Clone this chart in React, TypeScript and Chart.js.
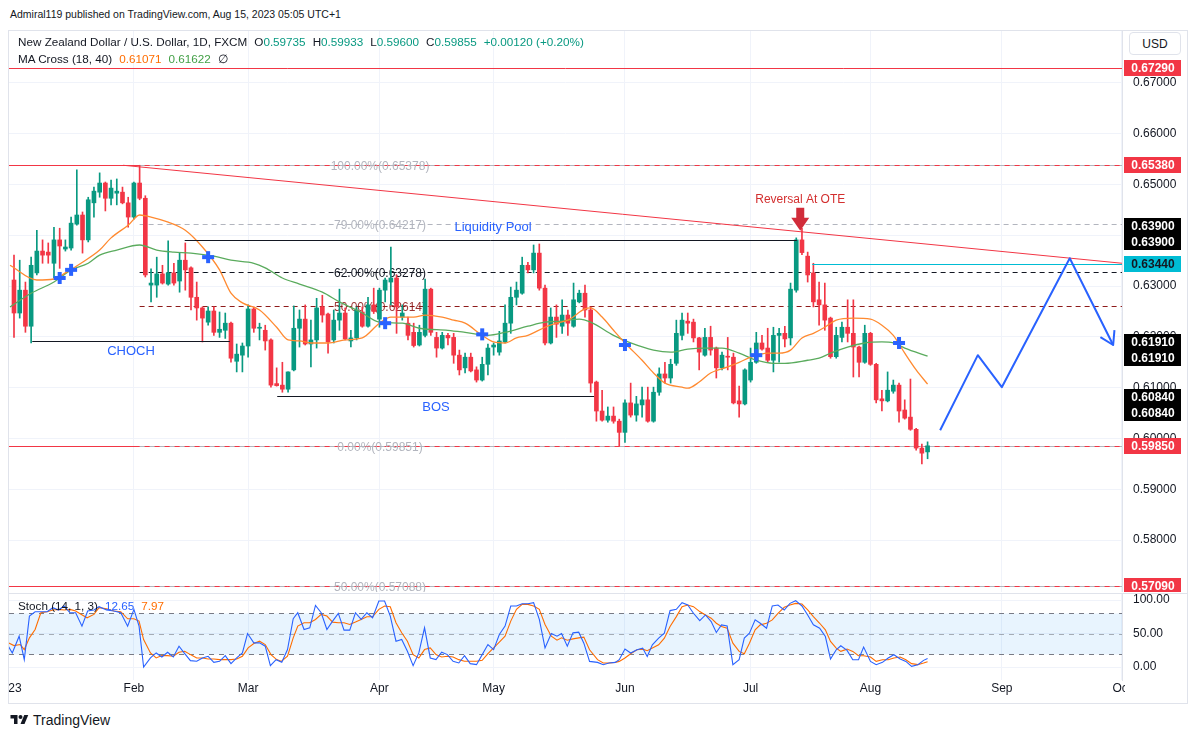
import React, { useEffect, useRef } from 'react';
import { Chart, registerables } from 'chart.js';

Chart.register(...registerables);

const FONT = '"Liberation Sans", Arial, sans-serif';
const UP = '#089981';
const DOWN = '#f23645';

// NZDUSD daily, Jan 3 .. Aug 15 2023: [open, high, low, close]
const candles: number[][] = [
  [0.6312, 0.6361, 0.6199, 0.6247], [0.6247, 0.6351, 0.6237, 0.6292], [0.6292, 0.6308, 0.6209, 0.6221],
  [0.6221, 0.6357, 0.6188, 0.6341], [0.6326, 0.641, 0.6322, 0.6369], [0.6369, 0.6391, 0.6345, 0.6361],
  [0.6367, 0.6385, 0.6345, 0.6361], [0.6345, 0.6416, 0.6316, 0.6391], [0.6391, 0.6414, 0.6335, 0.6379],
  [0.6373, 0.6391, 0.6369, 0.6377], [0.6375, 0.6436, 0.6371, 0.6424], [0.6422, 0.6529, 0.642, 0.644],
  [0.644, 0.6446, 0.6365, 0.6391], [0.6391, 0.6475, 0.6387, 0.647], [0.6464, 0.6495, 0.6436, 0.6487],
  [0.6485, 0.6523, 0.6475, 0.6503], [0.6503, 0.6505, 0.6448, 0.6473], [0.6473, 0.6509, 0.646, 0.6493],
  [0.6483, 0.6511, 0.646, 0.6487], [0.6485, 0.6495, 0.6462, 0.6464], [0.6464, 0.6475, 0.6416, 0.6436],
  [0.6436, 0.6505, 0.6432, 0.6503], [0.6503, 0.6538, 0.647, 0.6473], [0.6473, 0.6478, 0.6318, 0.6322],
  [0.6302, 0.6334, 0.6269, 0.6306], [0.6302, 0.6357, 0.6278, 0.6324], [0.6324, 0.6341, 0.6304, 0.6306],
  [0.6304, 0.6389, 0.6302, 0.6326], [0.6326, 0.6345, 0.6302, 0.6306], [0.631, 0.6365, 0.6288, 0.6351],
  [0.6351, 0.6385, 0.6292, 0.6332], [0.6336, 0.6338, 0.6253, 0.6278], [0.6278, 0.6308, 0.6233, 0.6257],
  [0.6257, 0.6259, 0.619, 0.6237], [0.6229, 0.6259, 0.6223, 0.6251], [0.6251, 0.6259, 0.6203, 0.6209],
  [0.6209, 0.6249, 0.6199, 0.6215], [0.6213, 0.6247, 0.6197, 0.6227], [0.6227, 0.6229, 0.615, 0.6158],
  [0.6152, 0.6186, 0.6131, 0.6166], [0.6164, 0.6188, 0.6131, 0.6182], [0.6182, 0.6263, 0.616, 0.6255],
  [0.6255, 0.6259, 0.6209, 0.6217], [0.6217, 0.6227, 0.6194, 0.6219], [0.6213, 0.6223, 0.6174, 0.6192],
  [0.6194, 0.6196, 0.6101, 0.6105], [0.6108, 0.6139, 0.6103, 0.6104], [0.6105, 0.615, 0.6091, 0.6097],
  [0.6097, 0.6131, 0.6091, 0.6131], [0.6135, 0.6261, 0.6133, 0.6217], [0.6217, 0.6253, 0.618, 0.6235],
  [0.6235, 0.6263, 0.6184, 0.6186], [0.6186, 0.6233, 0.6141, 0.6194], [0.6194, 0.6276, 0.6178, 0.6257],
  [0.6259, 0.6282, 0.6229, 0.6243], [0.6245, 0.6247, 0.6168, 0.619], [0.6194, 0.6253, 0.6188, 0.6233],
  [0.6233, 0.6294, 0.6213, 0.6247], [0.6247, 0.6257, 0.6194, 0.6196], [0.6192, 0.6213, 0.618, 0.6198],
  [0.6198, 0.6259, 0.6194, 0.6253], [0.6249, 0.6259, 0.6219, 0.6221], [0.6221, 0.6278, 0.6219, 0.6263],
  [0.6263, 0.6296, 0.6246, 0.625], [0.6235, 0.6296, 0.6219, 0.6292], [0.6292, 0.6316, 0.6269, 0.6312],
  [0.6308, 0.6377, 0.6263, 0.6316], [0.6316, 0.6322, 0.6207, 0.6259], [0.6239, 0.6263, 0.6233, 0.6247],
  [0.6227, 0.6239, 0.6194, 0.6203], [0.6209, 0.6227, 0.618, 0.6183], [0.6184, 0.6223, 0.6182, 0.6209],
  [0.6203, 0.6314, 0.62, 0.6294], [0.6294, 0.6296, 0.6203, 0.6209], [0.6199, 0.6209, 0.616, 0.6178],
  [0.6178, 0.6209, 0.6176, 0.6203], [0.6203, 0.6207, 0.6184, 0.6198], [0.6199, 0.6207, 0.6148, 0.6164],
  [0.6164, 0.6174, 0.6125, 0.6135], [0.6139, 0.6168, 0.6129, 0.616], [0.616, 0.6168, 0.6131, 0.6133],
  [0.6135, 0.6141, 0.6111, 0.6115], [0.6115, 0.616, 0.6113, 0.6146], [0.6146, 0.6186, 0.6125, 0.6178],
  [0.618, 0.6188, 0.6164, 0.6184], [0.617, 0.6211, 0.6164, 0.6192], [0.619, 0.6263, 0.6188, 0.6227],
  [0.6227, 0.6298, 0.6207, 0.6278], [0.6278, 0.6308, 0.6263, 0.6292], [0.6286, 0.6357, 0.6284, 0.6341],
  [0.6341, 0.6347, 0.6326, 0.6332], [0.6332, 0.6381, 0.6326, 0.6365], [0.6365, 0.6383, 0.6292, 0.6296],
  [0.6296, 0.6302, 0.6184, 0.6188], [0.6188, 0.6257, 0.6186, 0.6239], [0.6239, 0.6263, 0.6199, 0.6225],
  [0.6221, 0.6273, 0.6207, 0.6243], [0.6243, 0.6253, 0.6203, 0.6227], [0.6221, 0.6306, 0.6219, 0.6273],
  [0.6269, 0.6292, 0.6267, 0.6286], [0.6286, 0.6302, 0.6239, 0.6253], [0.6253, 0.6259, 0.6091, 0.6109],
  [0.6111, 0.6113, 0.6034, 0.6054], [0.6054, 0.6095, 0.6034, 0.6036], [0.6036, 0.6062, 0.6032, 0.6044],
  [0.6044, 0.6062, 0.603, 0.6034], [0.6034, 0.6038, 0.5985, 0.6012], [0.6012, 0.6076, 0.5992, 0.607],
  [0.607, 0.6109, 0.6042, 0.6046], [0.6046, 0.6083, 0.6034, 0.6068], [0.6066, 0.6101, 0.6042, 0.6076],
  [0.6076, 0.6101, 0.6032, 0.6034], [0.6034, 0.6101, 0.6032, 0.6091], [0.6091, 0.6139, 0.6085, 0.6127],
  [0.6127, 0.615, 0.6109, 0.6119], [0.6119, 0.6156, 0.6109, 0.6146], [0.6148, 0.6233, 0.6144, 0.6207],
  [0.6203, 0.6247, 0.6194, 0.6233], [0.6231, 0.6247, 0.6207, 0.6227], [0.6229, 0.6235, 0.619, 0.6198],
  [0.6198, 0.6199, 0.6135, 0.617], [0.6164, 0.6217, 0.6162, 0.6199], [0.6199, 0.6221, 0.6164, 0.6174],
  [0.6178, 0.618, 0.6119, 0.6139], [0.6139, 0.617, 0.6135, 0.6164], [0.6162, 0.6199, 0.6135, 0.616],
  [0.616, 0.6168, 0.6068, 0.607], [0.6074, 0.6103, 0.6042, 0.6068], [0.6068, 0.6137, 0.6066, 0.6135],
  [0.6115, 0.6178, 0.6111, 0.615], [0.615, 0.6209, 0.6148, 0.6188], [0.6188, 0.6203, 0.6174, 0.6176],
  [0.6178, 0.6217, 0.615, 0.6154], [0.6154, 0.6219, 0.6131, 0.6203], [0.6203, 0.6217, 0.615, 0.6207],
  [0.6207, 0.6221, 0.618, 0.6196], [0.6198, 0.6306, 0.6184, 0.6294], [0.6292, 0.6395, 0.6288, 0.6391],
  [0.6391, 0.6414, 0.6362, 0.6366], [0.6359, 0.6367, 0.6308, 0.6322], [0.6326, 0.6345, 0.6259, 0.6269],
  [0.6273, 0.6308, 0.6223, 0.6263], [0.6263, 0.6306, 0.6213, 0.6233], [0.6237, 0.6239, 0.6158, 0.6161],
  [0.6161, 0.6219, 0.6158, 0.6203], [0.6199, 0.6229, 0.619, 0.6219], [0.6219, 0.6273, 0.619, 0.6207],
  [0.6207, 0.6273, 0.6121, 0.618], [0.618, 0.6182, 0.6121, 0.615], [0.615, 0.6223, 0.6148, 0.6207],
  [0.6207, 0.6209, 0.6144, 0.6146], [0.6146, 0.6148, 0.607, 0.6076], [0.6078, 0.6095, 0.6054, 0.6074],
  [0.6074, 0.6131, 0.6072, 0.6095], [0.6093, 0.6115, 0.6089, 0.6105], [0.6105, 0.6109, 0.6032, 0.6054],
  [0.6056, 0.6076, 0.6038, 0.604], [0.6042, 0.6117, 0.6016, 0.6018], [0.6018, 0.602, 0.5977, 0.5981],
  [0.5981, 0.5989, 0.595, 0.5971], [0.59735, 0.59933, 0.596, 0.59855],
];

// MA Cross (18, 40): [bar index, value]
const maFast: number[][] = [
  [-0.7, 0.6341], [4, 0.6312], [7, 0.6314], [9, 0.6326], [12, 0.6347], [15, 0.6371], [17, 0.6395], [20, 0.642],
  [22, 0.644], [24, 0.6436], [27, 0.6426], [30, 0.641], [33, 0.6377], [36, 0.6332], [38, 0.6286], [40, 0.6267],
  [43, 0.6253], [46, 0.6219], [48, 0.6194], [50, 0.6192], [52, 0.6188], [55, 0.6188], [58, 0.6194], [61, 0.6198],
  [64, 0.6227], [66, 0.6239], [70, 0.6239], [72, 0.6243], [75, 0.6239], [77, 0.6233], [79, 0.6227], [82, 0.6203],
  [84, 0.619], [86, 0.6188], [88, 0.6198], [90, 0.6203], [93, 0.6219], [95, 0.6227], [97, 0.6233], [100, 0.6255],
  [101, 0.6257], [103, 0.6239], [105, 0.6213], [107, 0.6188], [110, 0.6154], [112, 0.6129], [114, 0.6109],
  [117, 0.6101], [118, 0.6099], [120, 0.6111], [122, 0.6129], [125, 0.6141], [127, 0.615], [129, 0.616],
  [132, 0.6168], [134, 0.6168], [136, 0.6174], [138, 0.6198], [140, 0.6207], [142, 0.6219], [144, 0.6233],
  [147, 0.6237], [150, 0.6235], [152, 0.6223], [154, 0.6203], [156, 0.6168], [158, 0.6135], [160, 0.6107],
];
const maSlow: number[][] = [
  [-0.7, 0.6259], [3, 0.6286], [7, 0.6308], [10, 0.6332], [13, 0.6345], [15, 0.6361], [18, 0.6371], [22, 0.6381],
  [25, 0.6371], [28, 0.6367], [31, 0.6365], [35, 0.6359], [38, 0.6351], [42, 0.6345], [44, 0.6336], [47, 0.6316],
  [50, 0.6304], [54, 0.6288], [57, 0.6269], [61, 0.6247], [64, 0.6229], [68, 0.6227], [71, 0.6217], [76, 0.6213],
  [79, 0.6209], [83, 0.6203], [86, 0.6209], [90, 0.6221], [93, 0.6229], [96, 0.6231], [99, 0.6235], [101, 0.6229],
  [105, 0.6203], [108, 0.6188], [112, 0.6174], [115, 0.617], [118, 0.6176], [121, 0.6178], [124, 0.6178],
  [127, 0.6168], [130, 0.6154], [133, 0.6148], [135, 0.6148], [139, 0.6154], [141, 0.6158], [143, 0.6168],
  [146, 0.618], [149, 0.6188], [152, 0.619], [154, 0.6188], [156, 0.6178], [160, 0.6162],
];
const maCrosses: number[][] = [
  [8, 0.6316], [10, 0.6332], [34, 0.6357], [65, 0.6227], [82, 0.6205], [107, 0.6184], [130, 0.6164], [155, 0.6188],
];

// Stoch (14, 1, 3): [bar index, value]
const stochK: number[][] = [
  [-1, 31], [-0.3, 21], [0.9, 46], [1.8, 11], [2.7, 76], [3.7, 82.5], [4.7, 82.5], [5.8, 82.5], [6.8, 88.5],
  [7.8, 85], [8.8, 91], [9.8, 81], [10.8, 81], [11.9, 61], [12.9, 83.5], [14, 85], [14.9, 90], [16.2, 85],
  [17.5, 83.5], [18.7, 81], [19.9, 61], [21, 86], [21.9, 61], [22.7, 0], [23.9, 13.5], [24.9, 21], [25.9, 15],
  [26.9, 22], [27.9, 15], [28.9, 31], [29.9, 20], [30.9, 9.5], [32, 8.5], [33, 13.5], [34, 16], [35, 7],
  [36, 8.5], [37, 17], [38, 5], [39, 13.5], [40, 21], [40.9, 50], [42, 36], [43, 36], [44, 31], [44.9, 2],
  [45.9, 11], [46.9, 7], [47.9, 26], [48.9, 72], [49.7, 81], [50.8, 56], [51.8, 58.5], [52.8, 92], [53.8, 81],
  [54.8, 56], [55.8, 68.5], [56.8, 80], [57.8, 55], [58.8, 55], [59.8, 81], [60.8, 71], [61.8, 81], [62.8, 73.5],
  [63.9, 98.5], [64.9, 98.5], [65.9, 76], [66.9, 38.5], [67.9, 41], [68.9, 23.5], [69.9, 2], [70.9, 21],
  [71.9, 58.5], [72.9, 13.5], [73.9, 11], [74.9, 22], [75.9, 18.5], [76.9, 8.5], [77.9, 6], [78.9, 17], [79.9, 5],
  [81, 3.5], [82, 18.5], [83, 33.5], [84, 26], [85, 48.5], [86, 61], [87, 91], [88, 91], [89, 94.5], [90, 94.5],
  [91, 96], [92, 71], [93, 28.5], [94.1, 50], [95.1, 46], [95.9, 50], [96.9, 31], [97.9, 51], [98.9, 52],
  [99.8, 35.6], [100.8, 8.4], [102.2, 6.9], [103.2, 3.5], [104.2, 5.9], [105.3, 6.9], [106, 10.9], [107, 26.7],
  [108, 20.8], [109.1, 25.7], [110.1, 28.2], [110.9, 15.8], [111.8, 33.2], [112.9, 43.1], [113.9, 50.5],
  [114.9, 84.2], [116, 86.1], [117, 96], [118, 92.6], [119, 80.2], [120.1, 69.3], [121.1, 77.7], [122.1, 67.8],
  [123, 51.5], [123.9, 62.9], [124.9, 61.4], [125.9, 3.5], [127, 10.9], [127.9, 43.1], [128.8, 50.5],
  [129.8, 70.3], [130.7, 65.3], [131.8, 57.9], [132.8, 91.1], [133.8, 92.6], [134.9, 85.1], [135.9, 95],
  [136.9, 99], [138, 91.1], [139, 77.7], [140, 62.9], [141.1, 57.9], [142.1, 45.5], [143, 11.9], [144, 25.7],
  [144.8, 31.7], [145.9, 24.8], [146.9, 10.9], [147.9, 10.9], [148.8, 29.7], [150, 8.4], [151, 3.5],
  [152.1, 6.9], [153.1, 13.4], [154.1, 18.3], [155.2, 11.9], [156.2, 8.4], [157.2, 1], [158.3, 3.5],
  [159.3, 9.9], [160, 12.65],
];
const stochD: number[][] = [
  [-1, 36], [0, 32], [1.1, 33.5], [1.8, 26], [2.7, 43.5], [3.7, 56], [4.7, 81], [5.8, 82.5], [6.8, 85], [7.8, 86],
  [8.8, 85], [9.8, 86], [10.8, 83.5], [11.8, 78.5], [12.8, 73.5], [14, 78.5], [14.9, 88.5], [16.2, 87],
  [17.5, 83.5], [18.7, 82.5], [19.9, 72], [21, 72], [21.9, 68.5], [22.7, 41], [23.9, 21], [24.9, 13.5],
  [25.9, 17], [26.9, 17], [27.9, 16], [28.9, 22], [29.9, 23.5], [30.9, 18.5], [32, 13.5], [33, 13.5], [34, 12],
  [35, 12], [36, 11], [37, 11], [38, 11], [39, 12], [40, 16], [41, 28.5], [42, 35], [43, 38.5], [44, 33.5],
  [45, 18.5], [46, 11], [46.8, 8.5], [47.9, 16], [48.9, 43.5], [49.7, 61], [50.8, 66], [51.8, 66], [52.8, 71],
  [53.8, 78.5], [54.8, 76], [55.8, 67], [56.8, 66], [57.8, 66], [58.8, 63.5], [59.8, 67], [60.8, 71], [61.8, 75],
  [62.8, 75], [63.9, 86], [64.9, 91], [65.9, 90], [66.9, 66], [67.9, 51], [68.9, 38.5], [69.9, 18.5],
  [70.9, 13.5], [71.9, 26], [72.9, 28.5], [73.9, 18.5], [74.9, 15], [75.9, 16], [76.9, 15], [77.9, 11],
  [78.9, 8.5], [79.9, 8.5], [81, 8.5], [82, 10], [83, 20], [84, 28.5], [85, 37], [86, 46], [87, 68.5], [88, 86],
  [89, 93.5], [90, 93.5], [91, 91], [92, 86], [93, 63.5], [94.1, 46], [95.1, 40], [95.9, 43.5], [96.9, 40],
  [97.9, 42], [98.9, 43.5], [99.8, 44.6], [100.8, 25.7], [102.2, 10.9], [103.2, 5.9], [104.2, 5.9], [105.3, 6.9],
  [106, 8.4], [107, 13.4], [108, 19.8], [109.1, 25.7], [110.1, 26.7], [110.9, 24.3], [111.8, 28.2],
  [112.9, 33.2], [113.9, 43.1], [114.9, 60.4], [116, 75.2], [117, 90.1], [118, 92.6], [119, 90.1], [120.1, 82.7],
  [121.1, 77.7], [122.1, 72.8], [123, 65.3], [123.9, 60.4], [124.9, 57.9], [125.9, 35.6], [127, 23.3],
  [127.9, 19.8], [128.8, 35.6], [129.8, 55.4], [130.7, 62.9], [131.8, 65.3], [132.8, 70.3], [133.8, 80.2],
  [134.9, 89.1], [135.9, 92.6], [136.9, 95], [138, 94], [139, 85.1], [140, 75.2], [141.1, 65.3], [142.1, 55.4],
  [143, 38.1], [144, 28.2], [144.8, 23.3], [145.9, 26.7], [146.9, 23.3], [147.9, 16.8], [148.8, 16.8],
  [150, 14.9], [151, 8.4], [152.1, 10.9], [153.1, 10.9], [154.1, 13.4], [155.2, 14.9], [156.2, 10.9],
  [157.2, 5], [158.3, 3.5], [159.3, 5.9], [160, 7.97],
];

const monthTickIdx = [-1, 21, 41, 64, 84, 107, 129, 150, 173, 194];
const monthTickLabels = ['2023', 'Feb', 'Mar', 'Apr', 'May', 'Jun', 'Jul', 'Aug', 'Sep', 'Oct'];
const priceTicks = [0.58, 0.59, 0.6, 0.61, 0.62, 0.63, 0.64, 0.65, 0.66, 0.67];
const stochTicks = [0, 50, 100];
const stochBands = [80, 50, 20];

const fibLevels = [1, 0.79, 0.62, 0.5, 0, 0.5];
const fibPrices = [0.65378, 0.64217, 0.63278, 0.62614, 0.59851, 0.57088];
const fibColors = ['#b2b5be', '#b2b5be', '#131722', 'rgba(136,14,14,0.85)', '#b2b5be', '#b2b5be'];

const axisMarkValues = [0.6729, 0.6538, 0.639, 0.639, 0.6344, 0.6191, 0.6191, 0.6084, 0.6084, 0.5985, 0.5709];
const axisMarkKinds = ['red', 'red', 'black', 'black', 'cyan', 'black', 'black', 'black', 'black', 'red', 'red'];

// projected path (bar index, price)
const projection: number[][] = [[162.2, 0.6016], [168.8, 0.6164], [173, 0.6101], [184.9, 0.6355], [192.5, 0.6184]];

// layout of the TradingView panes
const X_MIN = -0.876;
const X_MAX = 194.05;
const FIB_START = 22;
const markOffsets = [0, 0, -14, 2, 0, 1, 17, 1, 17, 0, 0];
const markBg: Record<string, string> = { red: '#f23645', black: '#000000', cyan: '#00bcd4' };
const markFg: Record<string, string> = { red: '#ffffff', black: '#ffffff', cyan: '#131722' };

const xScale = () => ({
  type: 'linear',
  min: X_MIN,
  max: X_MAX,
  offset: false,
  afterBuildTicks: (s: any) => {
    s.ticks = monthTickIdx.map((v) => ({ value: v }));
  },
  afterFit: (s: any) => {
    s.height = 0;
  },
  ticks: { display: false },
  grid: { color: '#f0f3fa', drawTicks: false, offset: false },
  border: { display: false },
});

const clipArea = (ctx: any, a: any) => {
  ctx.beginPath();
  ctx.rect(a.left, a.top, a.right - a.left, a.bottom - a.top);
  ctx.clip();
};

const mainOverlay = {
  id: 'mainOverlay',
  beforeDatasetsDraw(chart: any) {
    // fib retracement sits under the candles
    const { ctx, chartArea: a, scales } = chart;
    const X = (v: number) => scales.x.getPixelForValue(v);
    const Y = (v: number) => Math.round(scales.y.getPixelForValue(v)) + 0.5;
    ctx.save();
    clipArea(ctx, a);
    const hline = (p: number, from: number, color: string, dash: number[] = []) => {
      ctx.beginPath();
      ctx.setLineDash(dash);
      ctx.strokeStyle = color;
      ctx.lineWidth = 1;
      ctx.moveTo(X(from), Y(p));
      ctx.lineTo(X(X_MAX), Y(p));
      ctx.stroke();
      ctx.setLineDash([]);
    };
    hline(0.6729, X_MIN, DOWN);
    hline(fibPrices[0], X_MIN, DOWN);
    hline(fibPrices[0], FIB_START, '#b2b5be', [5, 5]);
    hline(fibPrices[1], FIB_START, '#b2b5be', [5, 4]);
    hline(fibPrices[2], FIB_START, '#131722', [5, 4]);
    hline(fibPrices[3], FIB_START, '#8e1b1b', [5, 4]);
    hline(fibPrices[4], X_MIN, DOWN);
    hline(fibPrices[4], FIB_START, '#b2b5be', [5, 5]);
    hline(fibPrices[5], X_MIN, DOWN);
    hline(fibPrices[5], FIB_START, '#b2b5be', [5, 5]);

    ctx.font = `12px ${FONT}`;
    ctx.textAlign = 'center';
    ctx.textBaseline = 'middle';
    fibLevels.forEach((lvl, i) => {
      ctx.fillStyle = fibColors[i];
      ctx.fillText(`${(lvl * 100).toFixed(2)}%(${fibPrices[i].toFixed(5)})`, X(64.1), Y(fibPrices[i]) + 1);
    });
    ctx.restore();
  },
  afterDatasetsDraw(chart: any) {
    const { ctx, chartArea: a, scales } = chart;
    const X = (v: number) => scales.x.getPixelForValue(v);
    const Yr = (v: number) => scales.y.getPixelForValue(v);
    const Y = (v: number) => Math.round(Yr(v)) + 0.5;
    ctx.save();
    clipArea(ctx, a);

    const seg = (p: number, from: number, to: number, color: string) => {
      ctx.beginPath();
      ctx.strokeStyle = color;
      ctx.lineWidth = 1;
      ctx.moveTo(X(from), Y(p));
      ctx.lineTo(X(to), Y(p));
      ctx.stroke();
    };
    // structure lines
    seg(0.639, 29.9, 137.1, '#131722');
    seg(0.6191, 3.2, 37.8, '#131722');
    seg(0.6084, 46.1, 101.6, '#131722');
    seg(0.6344, 139.8, X_MAX, '#00bcd4');

    // descending trend line
    ctx.beginPath();
    ctx.strokeStyle = DOWN;
    ctx.lineWidth = 1;
    ctx.moveTo(X(19.1), Yr(0.6538));
    ctx.lineTo(X(X_MAX), Yr(0.6345));
    ctx.stroke();

    // text notes
    ctx.textAlign = 'center';
    ctx.textBaseline = 'middle';
    ctx.font = `13px ${FONT}`;
    ctx.fillStyle = '#2962ff';
    ctx.fillText('Liquidity Pool', X(83.9), Yr(0.6415));
    ctx.fillText('CHOCH', X(20.5), Yr(0.6172));
    ctx.fillText('BOS', X(73.9), Yr(0.6062));
    ctx.font = `12px ${FONT}`;
    ctx.fillStyle = '#d32f2f';
    ctx.fillText('Reversal At OTE', X(137.7), Yr(0.647));

    // reversal arrow
    const ax = X(137.7);
    const tip = Yr(0.6409);
    ctx.fillStyle = '#d12c3a';
    ctx.fillRect(ax - 4, tip - 23, 8, 11);
    ctx.beginPath();
    ctx.moveTo(ax - 9, tip - 13);
    ctx.lineTo(ax + 9, tip - 13);
    ctx.lineTo(ax, tip);
    ctx.closePath();
    ctx.fill();

    // MA cross markers
    ctx.fillStyle = '#2962ff';
    maCrosses.forEach(([i, p]) => {
      const cx = X(i);
      const cy = Yr(p);
      ctx.fillRect(cx - 6, cy - 2, 12, 4);
      ctx.fillRect(cx - 2, cy - 6, 4, 12);
    });

    // projection path
    const pts = projection.map(([i, p]) => [X(i), Yr(p)]);
    ctx.strokeStyle = '#2962ff';
    ctx.lineWidth = 2;
    ctx.lineJoin = 'round';
    ctx.beginPath();
    pts.forEach(([x, y], k) => (k ? ctx.lineTo(x, y) : ctx.moveTo(x, y)));
    ctx.stroke();
    const [px, py] = pts[pts.length - 2];
    const [tx, ty] = pts[pts.length - 1];
    const ang = Math.atan2(ty - py, tx - px);
    ctx.beginPath();
    ctx.moveTo(tx - 15 * Math.cos(ang - 0.55), ty - 15 * Math.sin(ang - 0.55));
    ctx.lineTo(tx, ty);
    ctx.lineTo(tx - 15 * Math.cos(ang + 0.55), ty - 15 * Math.sin(ang + 0.55));
    ctx.stroke();
    ctx.restore();
  },
  afterDraw(chart: any) {
    const { ctx, chartArea: a, scales } = chart;
    ctx.save();
    ctx.font = `12px ${FONT}`;
    ctx.textBaseline = 'middle';
    ctx.textAlign = 'left';
    ctx.fillStyle = '#131722';
    priceTicks.forEach((v) => {
      ctx.fillText(v.toFixed(5), a.right + 11, scales.y.getPixelForValue(v));
    });
    ctx.font = `bold 12px ${FONT}`;
    ctx.textAlign = 'center';
    axisMarkValues.forEach((v, i) => {
      const y = scales.y.getPixelForValue(v) + markOffsets[i];
      ctx.fillStyle = markBg[axisMarkKinds[i]];
      ctx.fillRect(a.right + 2, Math.round(y - 8), 57, 16);
      ctx.fillStyle = markFg[axisMarkKinds[i]];
      ctx.fillText(v.toFixed(5), a.right + 31, y + 0.5);
    });
    ctx.restore();
  },
};

const stochOverlay = {
  id: 'stochOverlay',
  beforeDatasetsDraw(chart: any) {
    const { ctx, chartArea: a, scales } = chart;
    const Y = (v: number) => Math.round(scales.y.getPixelForValue(v)) + 0.5;
    ctx.save();
    ctx.fillStyle = 'rgba(33, 150, 243, 0.1)';
    ctx.fillRect(a.left, Y(80), a.right - a.left, Y(20) - Y(80));
    ctx.setLineDash([5, 5]);
    ctx.lineWidth = 1;
    stochBands.forEach((v) => {
      ctx.strokeStyle = v === 50 ? 'rgba(120,123,134,0.6)' : '#787b86';
      ctx.beginPath();
      ctx.moveTo(a.left, Y(v));
      ctx.lineTo(a.right, Y(v));
      ctx.stroke();
    });
    ctx.restore();
  },
  afterDraw(chart: any) {
    const { ctx, chartArea: a, scales } = chart;
    ctx.save();
    ctx.font = `12px ${FONT}`;
    ctx.textBaseline = 'middle';
    ctx.textAlign = 'left';
    ctx.fillStyle = '#131722';
    stochTicks.forEach((v) => {
      ctx.fillText(v.toFixed(2), a.right + 11, scales.y.getPixelForValue(v));
    });
    ctx.beginPath();
    ctx.rect(a.left, a.bottom, a.right - a.left + 3, 30);
    ctx.clip();
    ctx.textAlign = 'center';
    monthTickIdx.forEach((v, i) => {
      ctx.fillText(monthTickLabels[i], scales.x.getPixelForValue(v), a.bottom + 8.5);
    });
    ctx.restore();
  },
};

function PriceChart() {
  const canvasRef = useRef<HTMLCanvasElement | null>(null);

  useEffect(() => {
    const canvas = canvasRef.current;
    if (!canvas) return;
    const colors = candles.map((c) => (c[3] >= c[0] ? UP : DOWN));
    const chart = new Chart(canvas, {
      type: 'bar',
      data: {
        datasets: [
          {
            type: 'bar',
            data: candles.map((c, i) => ({ x: i, y: [c[2], c[1]] })),
            backgroundColor: colors,
            barThickness: 1,
            grouped: false,
            order: 3,
          },
          {
            type: 'bar',
            data: candles.map((c, i) => ({ x: i, y: [c[0], c[3]] })),
            backgroundColor: colors,
            barThickness: 4,
            minBarLength: 1,
            grouped: false,
            order: 2,
          },
          {
            type: 'line',
            data: maFast.map(([x, y]) => ({ x, y })),
            borderColor: '#ff8a30',
            borderWidth: 1.3,
            pointRadius: 0,
            cubicInterpolationMode: 'monotone',
            order: 1,
          },
          {
            type: 'line',
            data: maSlow.map(([x, y]) => ({ x, y })),
            borderColor: '#5aab5d',
            borderWidth: 1.3,
            pointRadius: 0,
            cubicInterpolationMode: 'monotone',
            order: 1,
          },
        ] as any,
      },
      options: {
        animation: false,
        responsive: true,
        maintainAspectRatio: false,
        layout: { padding: 0 },
        plugins: { legend: { display: false }, tooltip: { enabled: false } },
        scales: {
          x: xScale() as any,
          y: {
            type: 'linear',
            position: 'right',
            min: 0.56976,
            max: 0.68024,
            afterBuildTicks: (s: any) => {
              s.ticks = priceTicks.map((v) => ({ value: v }));
            },
            afterFit: (s: any) => {
              s.width = 65;
            },
            ticks: { display: false },
            grid: { color: '#f0f3fa', drawTicks: false },
            border: { color: '#e0e3eb' },
          },
        },
      },
      plugins: [mainOverlay],
    });
    return () => {
      chart.destroy();
    };
  }, []);

  return <canvas ref={canvasRef} />;
}

function StochChart() {
  const canvasRef = useRef<HTMLCanvasElement | null>(null);

  useEffect(() => {
    const canvas = canvasRef.current;
    if (!canvas) return;
    const chart = new Chart(canvas, {
      type: 'line',
      data: {
        datasets: [
          {
            data: stochK.map(([x, y]) => ({ x, y })),
            borderColor: '#2962ff',
            borderWidth: 1.1,
            pointRadius: 0,
          },
          {
            data: stochD.map(([x, y]) => ({ x, y })),
            borderColor: '#ff6d00',
            borderWidth: 1.1,
            pointRadius: 0,
          },
        ],
      },
      options: {
        animation: false,
        responsive: true,
        maintainAspectRatio: false,
        layout: { padding: { bottom: 23 } },
        plugins: { legend: { display: false }, tooltip: { enabled: false } },
        scales: {
          x: xScale() as any,
          y: {
            type: 'linear',
            position: 'right',
            min: -19.4,
            max: 108.96,
            afterBuildTicks: (s: any) => {
              s.ticks = stochTicks.map((v) => ({ value: v }));
            },
            afterFit: (s: any) => {
              s.width = 65;
            },
            ticks: { display: false },
            grid: { color: '#f0f3fa', drawTicks: false },
            border: { color: '#e0e3eb' },
          },
        },
      },
      plugins: [stochOverlay],
    });
    return () => {
      chart.destroy();
    };
  }, []);

  return <canvas ref={canvasRef} />;
}

const abs = (left: number, top: number, width: number, height: number): React.CSSProperties => ({
  position: 'absolute',
  left,
  top,
  width,
  height,
});

export default function App() {
  const dark = '#131722';
  const green = UP;
  return (
    <div style={{ position: 'fixed', left: 0, top: 0, width: 1195, height: 738, background: '#fff', fontFamily: FONT, color: dark, overflow: 'hidden' }}>
      <div style={{ position: 'absolute', left: 10, top: 8, fontSize: 10.5, whiteSpace: 'nowrap' }}>
        Admiral119 published on TradingView.com, Aug 15, 2023 05:05 UTC+1
      </div>
      <div style={{ ...abs(8, 30, 1180, 674), border: '1px solid #e0e3eb', boxSizing: 'border-box' }} />
      <div style={abs(9, 31, 1178, 561)}>
        <PriceChart />
      </div>
      <div style={{ ...abs(8, 593, 1180, 1), background: '#e0e3eb' }} />
      <div style={abs(9, 594, 1178, 109)}>
        <StochChart />
      </div>

      <div style={{ position: 'absolute', left: 18, top: 35, fontSize: 11.7, whiteSpace: 'nowrap' }}>
        <span>New Zealand Dollar / U.S. Dollar, 1D, FXCM</span>
        <span style={{ marginLeft: 7 }}>O</span><span style={{ color: green }}>0.59735</span>
        <span style={{ marginLeft: 7 }}>H</span><span style={{ color: green }}>0.59933</span>
        <span style={{ marginLeft: 7 }}>L</span><span style={{ color: green }}>0.59600</span>
        <span style={{ marginLeft: 7 }}>C</span><span style={{ color: green }}>0.59855</span>
        <span style={{ marginLeft: 7, color: green }}>+0.00120 (+0.20%)</span>
      </div>
      <div style={{ position: 'absolute', left: 18, top: 52, fontSize: 11.7, whiteSpace: 'nowrap' }}>
        <span>MA Cross (18, 40)</span>
        <span style={{ marginLeft: 7, color: '#ff6d00' }}>0.61071</span>
        <span style={{ marginLeft: 7, color: '#43a047' }}>0.61622</span>
        <span style={{ marginLeft: 7 }}>∅</span>
      </div>
      <div style={{ ...abs(1129, 32, 52, 23), border: '1px solid #e0e3eb', borderRadius: 4, boxSizing: 'border-box', background: '#fff', fontSize: 12, display: 'flex', alignItems: 'center', justifyContent: 'center' }}>
        USD
      </div>
      <div style={{ position: 'absolute', left: 18, top: 599, fontSize: 11.7, whiteSpace: 'nowrap' }}>
        <span>Stoch (14, 1, 3)</span>
        <span style={{ marginLeft: 7, color: '#2962ff' }}>12.65</span>
        <span style={{ marginLeft: 7, color: '#ff6d00' }}>7.97</span>
      </div>

      <div style={{ position: 'absolute', left: 10, top: 712, display: 'flex', alignItems: 'center' }}>
        <svg width="19" height="14" viewBox="0 0 36 28">
          <path d="M14 22H7V11H0V4h14v18z" fill={dark} />
          <circle cx="20" cy="8" r="4" fill={dark} />
          <path d="M28 22h-8l7.5-18h8z" fill={dark} />
        </svg>
        <span style={{ marginLeft: 4, fontSize: 14 }}>TradingView</span>
      </div>
    </div>
  );
}
